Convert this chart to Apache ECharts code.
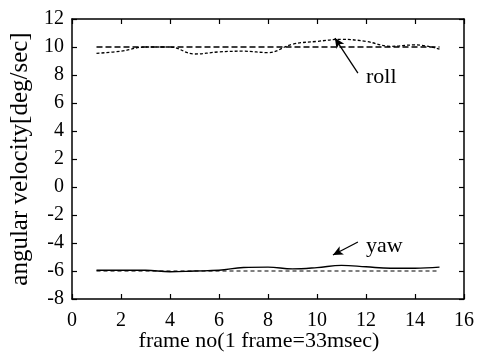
<!DOCTYPE html>
<html>
<head>
<meta charset="utf-8">
<script src="https://cdn.jsdelivr.net/npm/echarts@6/dist/echarts.min.js"></script>
<style>html,body{margin:0;padding:0;background:#fff}#c{width:482px;height:358px}</style>
</head>
<body>
<div id="c"></div>
<script>
var frames = [1,2,3,4,5,6,7,8,9,10,11,12,13,14,15];
var rollMeasured = [9.55,9.7,10.0,10.0,9.5,9.65,9.7,9.6,10.2,10.4,10.55,10.4,10.05,10.15,9.85];
var rollReference = [10,10,10,10,10,10,10,10,10,10,10,10,10,10,10];
var yawMeasured = [-5.95,-5.95,-5.95,-6.05,-6.0,-5.95,-5.75,-5.72,-5.85,-5.76,-5.6,-5.7,-5.8,-5.8,-5.72];
var yawReference = [-6,-6,-6,-6,-6,-6,-6,-6,-6,-6,-6,-6,-6,-6,-6];
var xTicks = [0,2,4,6,8,10,12,14,16];
var yTicks = [-8,-6,-4,-2,0,2,4,6,8,10,12];
var rollArrow = [[11.67,8.14],[10.73,10.64]];
var yawArrow = [[11.67,-3.93],[10.65,-4.86]];
var rollLabel = {text:'roll', at:[12.0,7.85]};
var yawLabel = {text:'yaw', at:[12.0,-4.2]};

function pairs(xs, ys){ return xs.map(function(x,i){return [x, ys[i]];}); }

var font = 'Liberation Serif';
var axisLineStyle = {color:'#000', width:1.5};
function xAx(pos, show){
  return {type:'value', position:pos, min:xTicks[0], max:xTicks[xTicks.length-1], interval:2,
    axisLine:{show:true, onZero:false, lineStyle:axisLineStyle},
    axisTick:{show:true, inside:true, length:5, lineStyle:{color:'#000',width:1.2}},
    axisLabel:{show:show, color:'#000', fontFamily:font, fontSize:20, margin:12},
    splitLine:{show:false},
    name: show ? 'frame no(1 frame=33msec)' : '', nameLocation:'middle', nameGap:31,
    nameMoveOverlap:false,
    nameTextStyle:{color:'#000', fontFamily:font, fontSize:22, padding:[0,18,0,0]}};
}
function yAx(pos, show){
  return {type:'value', position:pos, min:yTicks[0], max:yTicks[yTicks.length-1], interval:2,
    axisLine:{show:true, onZero:false, lineStyle:axisLineStyle},
    axisTick:{show:true, inside:true, length:5, lineStyle:{color:'#000',width:1.2}},
    axisLabel:{show:show, color:'#000', fontFamily:font, fontSize:20, margin:8},
    splitLine:{show:false},
    name: show ? 'angular velocity[deg/sec]' : '', nameLocation:'middle', nameGap:39,
    nameMoveOverlap:false,
    nameTextStyle:{color:'#000', fontFamily:font, fontSize:25}};
}
function arrowLine(a){
  return {symbol:['none','arrow'], symbolSize:[7,10], silent:true, animation:false,
    lineStyle:{color:'#000', width:1.3, type:'solid'}, label:{show:false},
    data:[[{coord:a[0]},{coord:a[1]}]]};
}
function textPoint(l){
  return {symbol:'circle', symbolSize:0, silent:true, animation:false,
    data:[{coord:l.at, value:l.text}],
    label:{show:true, position:'right', distance:0, formatter:l.text, color:'#000', fontFamily:font, fontSize:22}};
}

var chart = echarts.init(document.getElementById('c'));
chart.setOption({
  animation:false,
  backgroundColor:'#fff',
  grid:{left:72, right:18, top:19, bottom:59, containLabel:false, outerBoundsMode:'none'},
  xAxis:[xAx('bottom', true), xAx('top', false)],
  yAxis:[yAx('left', true), yAx('right', false)],
  series:[
    {type:'line', data:pairs(frames, rollReference), showSymbol:false, smooth:false,
     lineStyle:{color:'#000', width:1.3, type:[6,3]}},
    {type:'line', data:pairs(frames, rollMeasured), showSymbol:false, smooth:0.4,
     lineStyle:{color:'#000', width:1.3, type:[3,2]},
     markLine:arrowLine(rollArrow), markPoint:textPoint(rollLabel)},
    {type:'line', data:pairs(frames, yawReference), showSymbol:false, smooth:false,
     lineStyle:{color:'#000', width:1.2, type:[4,3]}},
    {type:'line', data:pairs(frames, yawMeasured), showSymbol:false, smooth:0.4,
     lineStyle:{color:'#000', width:1.4, type:'solid'},
     markLine:arrowLine(yawArrow), markPoint:textPoint(yawLabel)}
  ]
});
</script>
</body>
</html>
